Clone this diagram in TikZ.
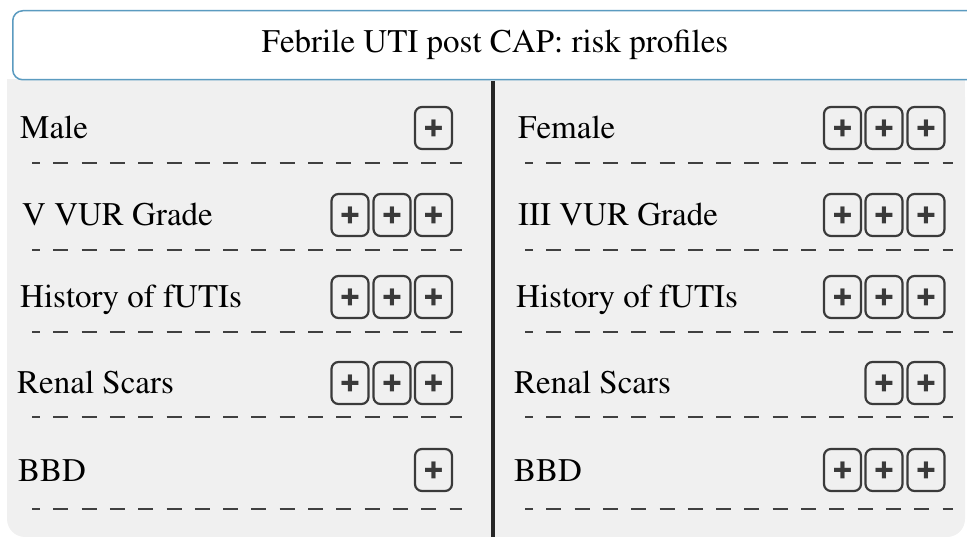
\documentclass[tikz,border=0pt]{standalone}
\usepackage[T1]{fontenc}
\usepackage{times}
\definecolor{hdrblue}{HTML}{5B9BC0}
\definecolor{panelgray}{HTML}{F0F0F0}
\definecolor{boxgray}{HTML}{3A3A3A}
\begin{document}
\begin{tikzpicture}[x=1pt, y=-1pt,
  lbl/.style={anchor=base west, inner sep=0pt, font=\rmfamily\fontsize{33}{40}\selectfont},
  pbox/.style={draw=boxgray, line width=2.2pt, rounded corners=7pt, minimum width=37pt, minimum height=42pt, inner sep=0pt, font=\sffamily\bfseries\fontsize{35}{35}\selectfont, text=boxgray},
  sep/.style={line width=1.6pt, draw=black!75, dash pattern=on 15pt off 13.3pt, dash phase=7pt}]
\useasboundingbox (0,0) rectangle (967,537);
\clip (0,0) rectangle (967,537);
\fill[panelgray, rounded corners=18pt] (7,79) rectangle (965,537);
\fill[panelgray] (7,79) rectangle (965,120);
\node[draw=hdrblue, fill=white, rounded corners=10pt, line width=1.5pt, minimum width=978pt, minimum height=69pt, anchor=north west] (hdr) at (12,10){};
\node[inner sep=0pt, font=\rmfamily\fontsize{33}{40}\selectfont] (ttl) at (495,45){Febrile UTI post CAP: risk profiles};
\coordinate (vtop) at (493,81);
\coordinate (vbot) at (493,540);
\draw[line width=3.5pt, black!85] (vtop) -- (vbot);
% left column
\node[lbl] (l1) at (20,139){Male};
\node[pbox] (l1c) at (433.5,128){+};
\coordinate (dl1a) at (32,163);
\coordinate (dl1b) at (462,163);
\draw[sep] (dl1a) -- (dl1b);
\node[lbl] (l2) at (22,226){V VUR Grade};
\node[pbox] (l2a) at (350,215){+};
\node[pbox] (l2b) at (392,215){+};
\node[pbox] (l2c) at (433.5,215){+};
\coordinate (dl2a) at (32,250);
\coordinate (dl2b) at (462,250);
\draw[sep] (dl2a) -- (dl2b);
\node[lbl] (l3) at (20,308){History of fUTIs};
\node[pbox] (l3a) at (350,297){+};
\node[pbox] (l3b) at (392,297){+};
\node[pbox] (l3c) at (433.5,297){+};
\coordinate (dl3a) at (32,332);
\coordinate (dl3b) at (462,332);
\draw[sep] (dl3a) -- (dl3b);
\node[lbl] (l4) at (17,394){Renal Scars};
\node[pbox] (l4a) at (350,383){+};
\node[pbox] (l4b) at (392,383){+};
\node[pbox] (l4c) at (433.5,383){+};
\coordinate (dl4a) at (32,417);
\coordinate (dl4b) at (462,417);
\draw[sep] (dl4a) -- (dl4b);
\node[lbl] (l5) at (18,481){BBD};
\node[pbox] (l5c) at (433.5,470){+};
\coordinate (dl5a) at (32,509);
\coordinate (dl5b) at (462,509);
\draw[sep] (dl5a) -- (dl5b);
% right column
\node[lbl] (r1) at (518,139){Female};
\node[pbox] (r1a) at (842.5,128){+};
\node[pbox] (r1b) at (884,128){+};
\node[pbox] (r1c) at (926,128){+};
\coordinate (dr1a) at (525,163);
\coordinate (dr1b) at (953,163);
\draw[sep] (dr1a) -- (dr1b);
\node[lbl] (r2) at (518,226){III VUR Grade};
\node[pbox] (r2a) at (842.5,215){+};
\node[pbox] (r2b) at (884,215){+};
\node[pbox] (r2c) at (926,215){+};
\coordinate (dr2a) at (525,250);
\coordinate (dr2b) at (953,250);
\draw[sep] (dr2a) -- (dr2b);
\node[lbl] (r3) at (516,308){History of fUTIs};
\node[pbox] (r3a) at (842.5,297){+};
\node[pbox] (r3b) at (884,297){+};
\node[pbox] (r3c) at (926,297){+};
\coordinate (dr3a) at (525,332);
\coordinate (dr3b) at (953,332);
\draw[sep] (dr3a) -- (dr3b);
\node[lbl] (r4) at (514,394){Renal Scars};
\node[pbox] (r4b) at (884,383){+};
\node[pbox] (r4c) at (926,383){+};
\coordinate (dr4a) at (525,417);
\coordinate (dr4b) at (953,417);
\draw[sep] (dr4a) -- (dr4b);
\node[lbl] (r5) at (514,481){BBD};
\node[pbox] (r5a) at (842.5,470){+};
\node[pbox] (r5b) at (884,470){+};
\node[pbox] (r5c) at (926,470){+};
\coordinate (dr5a) at (525,509);
\coordinate (dr5b) at (953,509);
\draw[sep] (dr5a) -- (dr5b);
\end{tikzpicture}
\end{document}
